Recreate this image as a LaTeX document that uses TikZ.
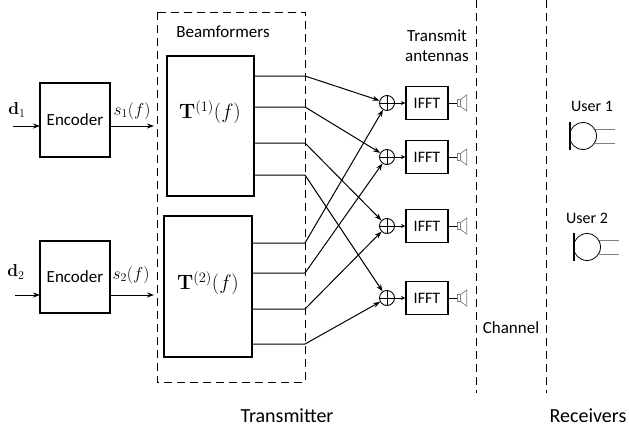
\documentclass[tikz,border=0pt]{standalone}
\usepackage[no-math]{fontspec}
\setmainfont{Carlito}
\usetikzlibrary{arrows.meta}
\begin{document}
\begin{tikzpicture}[x=1pt,y=-1pt,
  font=\fontsize{17}{20}\selectfont,
  blk/.style={draw,line width=1.3pt,inner sep=0pt},
  arr/.style={-{Stealth[length=7pt,width=5pt]},line width=1pt},
  sarr/.style={-{Stealth[length=4.5pt,width=4pt]},line width=1pt},
  wire/.style={line width=1pt},
  dsh/.style={dash pattern=on 8pt off 5pt,line width=0.9pt},
  summer/.style={draw,circle,line width=0.9pt,minimum size=15pt,inner sep=0pt,
     path picture={\draw[line width=0.9pt] (path picture bounding box.north) -- (path picture bounding box.south) (path picture bounding box.west) -- (path picture bounding box.east);}},
  ifft/.style={blk,minimum width=42pt,minimum height=33pt,font=\fontsize{16}{19}\selectfont},
  big/.style={font=\fontsize{20}{24}\selectfont},
  usr/.style={font=\fontsize{16}{19}\selectfont},
  antenna/.pic={
    \draw[line width=1pt] (0,0) -- (9,0);
    \draw[gray,line width=0.7pt] (9,-3.5) rectangle (12,3.5);
    \draw[gray,line width=0.7pt] (12,-3.5) -- (18,-8) -- (18,8) -- (12,3.5);
  },
  user/.pic={
    \draw[line width=0.8pt] (0,0) circle[radius=13.5];
    \draw[line width=2.4pt] (-13,-14) -- (-13,14);
    \draw[gray,line width=0.8pt] (11.6,-7) -- (32,-7) (11.6,7) -- (32,7);
  },
]
\useasboundingbox (0,0) rectangle (629,431);

% dashed regions
\draw[dsh] (157,12) rectangle (305,382);
\draw[dsh] (476,0) -- (476,393);
\draw[dsh] (546,0) -- (546,393);

% encoders
\node[blk,minimum width=70pt,minimum height=74pt] (enc1) at (75,120) {Encoder};
\node[blk,minimum width=70pt,minimum height=72pt] (enc2) at (75,277) {Encoder};
\node (d1) at (17,110) {$\mathbf{d}_1$};
\node (d2) at (16,272) {$\mathbf{d}_2$};
\node (s1) at (132,111) {$s_1(f)$};
\node (s2) at (131,275) {$s_2(f)$};
\coordinate (d1in) at (13,126);
\coordinate (e1in) at (40,126);
\coordinate (d2in) at (15,295);
\coordinate (e2in) at (40,295);
\coordinate (e1out) at (110,126);
\coordinate (b1in) at (154,126);
\coordinate (e2out) at (110,295);
\coordinate (b2in) at (154,295);
\draw[arr] (d1in) -- (e1in);
\draw[arr] (d2in) -- (e2in);
\draw[arr] (e1out) -- (b1in);
\draw[arr] (e2out) -- (b2in);

% beamformers
\node (bft) at (223,32) {Beamformers};
\node[blk,minimum width=87pt,minimum height=140pt] (T1) at (210.5,126) {};
\node[blk,minimum width=88pt,minimum height=141pt] (T2) at (208,286.5) {};
\node[font=\fontsize{22}{26}\selectfont] (T1l) at (210,112) {$\mathbf{T}^{(1)}(f)$};
\node[font=\fontsize{22}{26}\selectfont] (T2l) at (208,283) {$\mathbf{T}^{(2)}(f)$};

% summers and IFFTs
\foreach \i/\y in {1/103,2/157,3/226,4/298}{
  \node[summer] (S\i) at (387,\y) {};
  \node[ifft] (F\i) at (427,\y) {IFFT};
  \draw[sarr] (S\i) -- (F\i);
  \pic at (F\i.east) {antenna};
}

% beamformer outputs
\foreach \j/\y/\k in {1/76/1,2/107/2,3/143/3,4/175/4}{
  \coordinate (a\j) at (254,\y);
  \coordinate (ka\j) at (305,\y);
  \draw[wire,arr] (a\j) -- (ka\j) -- (S\k);
}
\foreach \j/\y/\k in {1/243/1,2/273/2,3/309/3,4/344/4}{
  \coordinate (b\j) at (252,\y);
  \coordinate (kb\j) at (305,\y);
  \draw[wire,arr] (b\j) -- (kb\j) -- (S\k);
}

% labels
\node[align=center,inner sep=0pt] (ta) at (437,46) {Transmit\\antennas};
\node (ch) at (511,328) {Channel};
\node[usr] (u1) at (592,106) {User 1};
\node[usr] (u2) at (587,218) {User 2};
\pic at (583,136) {user};
\pic at (587,247) {user};
\node[big,anchor=base] (tx) at (287,422) {Transmitter};
\node[big,anchor=base] (rx) at (588,422) {Receivers};
\end{tikzpicture}
\end{document}
